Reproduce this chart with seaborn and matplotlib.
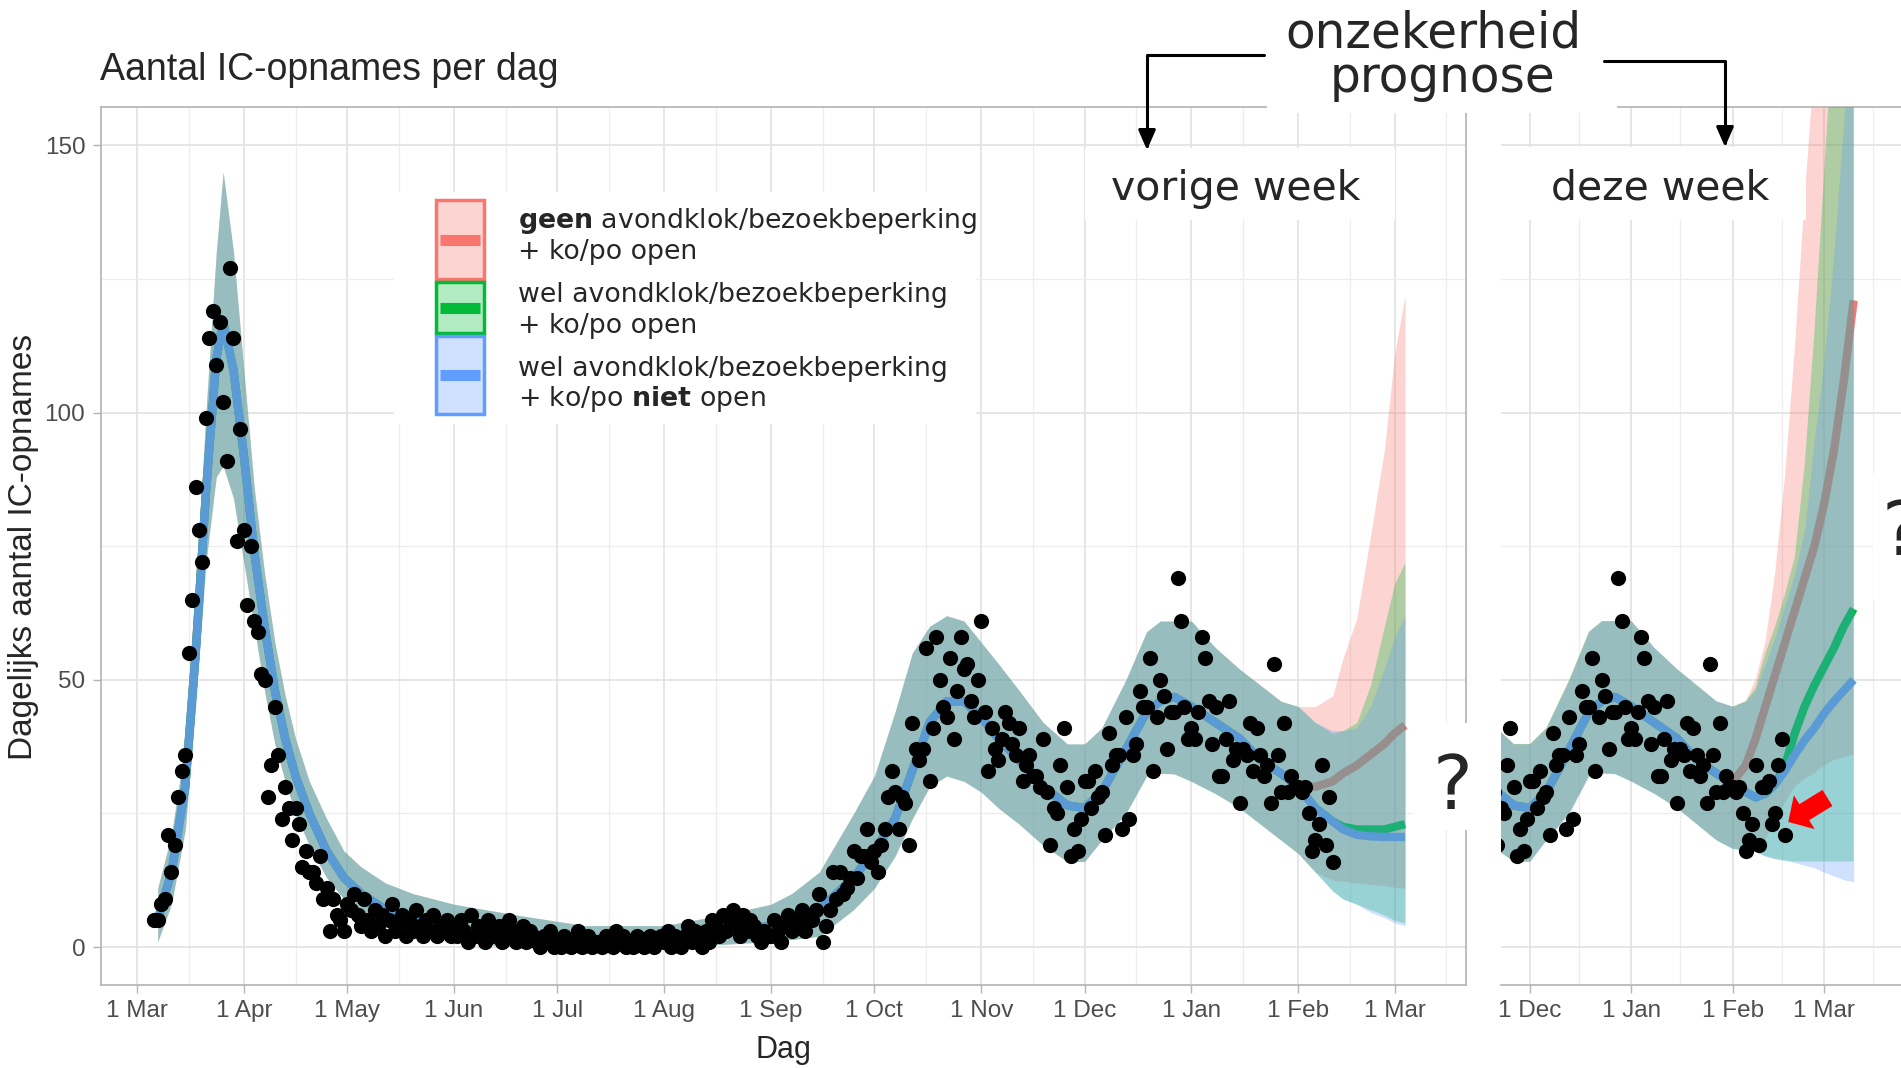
import pandas as pd
import matplotlib
matplotlib.use("Agg")
import matplotlib.pyplot as plt
import matplotlib.dates as mdates
from matplotlib.patches import Rectangle, FancyArrowPatch
from matplotlib.lines import Line2D
from matplotlib.path import Path
import seaborn as sns

# Daily IC admissions (starting 6 Mar 2020)
mar = [5, 5, 8, 9, 21, 14, 19, 28, 33, 36, 55, 65, 86, 78, 72, 99, 114, 119, 109, 117, 102, 91, 127, 114, 76, 97]
apr = [78, 64, 75, 61, 59, 51, 50, 28, 34, 45, 36, 24, 30, 26, 20, 26, 23, 15, 18, 14,
       14, 12, 17, 9, 11, 3, 9, 6, 5, 3]
may = [8, 7, 10, 6, 4, 9, 5, 3, 7, 4, 6, 2, 5, 8, 3, 4, 6, 2, 5, 3, 7, 4, 2, 5, 3, 6, 2, 4, 3, 5, 2]
jun = [4, 2, 5, 3, 1, 6, 2, 4, 3, 1, 5, 2, 3, 4, 1, 2, 5, 3, 1, 2, 4, 1, 3, 2, 1, 0, 2, 1, 3, 0]
jul = [1, 0, 2, 1, 0, 1, 3, 0, 1, 2, 0, 1, 1, 0, 2, 1, 0, 3, 1, 2, 0, 1, 0, 2, 1, 0, 1, 2, 0, 1, 2]
aug = [1, 3, 0, 2, 1, 0, 2, 4, 1, 3, 2, 0, 3, 1, 5, 4, 2, 6, 3, 5, 7, 4, 2, 6, 3, 5, 4, 2, 1, 3, 2]
sep = [2, 5, 3, 1, 4, 6, 3, 5, 4, 7, 3, 6, 5, 7, 10, 1, 4, 7, 14, 9, 14, 10, 11, 13, 18, 13, 17, 17, 22, 16]
okt = [18, 14, 19, 22, 28, 33, 29, 22, 28, 27, 19, 42, 37, 35, 37, 56, 31, 41, 58, 50,
       45, 43, 54, 39, 48, 58, 52, 53, 46, 43, 50]
nov = [61, 44, 33, 41, 37, 35, 39, 44, 42, 38, 36, 41, 31, 34, 36, 32, 32, 30, 39, 29,
       19, 26, 25, 34, 41, 30, 17, 22, 18, 24]
dec = [31, 31, 26, 33, 28, 29, 21, 40, 34, 36, 36, 22, 43, 24, 36, 38, 48, 45, 45, 54,
       33, 43, 50, 47, 37, 44, 44, 69, 61, 45, 39]
jan = [41, 39, 44, 58, 54, 46, 38, 45, 32, 32, 39, 46, 35, 37, 27, 37, 36, 42, 33, 41,
       36, 32, 34, 27, 53, 36, 29, 42, 29, 32, 30]
feb = [30, 29, 30, 25, 18, 20, 23, 34, 19, 28, 16]
ic_daily = mar + apr + may + jun + jul + aug + sep + okt + nov + dec + jan + feb
ic_dates = pd.date_range("2020-03-06", periods=len(ic_daily), freq="D")

# figures from 10 Feb 2021 as shown in this week's panel
ic_new = [30, 30, 31, 23, 25, 34, 39, 21]
ic_new_dates = pd.date_range("2021-02-10", periods=len(ic_new), freq="D")

# model fit up to the start of the forecast (same for all scenarios)
hist_dates = ["2020-03-07", "2020-03-11", "2020-03-15", "2020-03-18", "2020-03-21", "2020-03-24",
              "2020-03-26", "2020-03-29", "2020-04-01", "2020-04-04", "2020-04-07", "2020-04-10",
              "2020-04-13", "2020-04-16", "2020-04-20", "2020-04-25", "2020-04-30", "2020-05-05",
              "2020-05-12", "2020-05-20", "2020-06-01", "2020-06-19", "2020-07-09", "2020-08-01",
              "2020-08-18", "2020-09-01", "2020-09-07", "2020-09-15", "2020-09-25", "2020-10-01",
              "2020-10-07", "2020-10-12", "2020-10-17", "2020-10-22", "2020-10-27", "2020-11-01",
              "2020-11-06", "2020-11-12", "2020-11-19", "2020-11-26", "2020-12-01", "2020-12-06",
              "2020-12-13", "2020-12-19", "2020-12-23", "2020-12-27", "2021-01-01", "2021-01-08",
              "2021-01-15", "2021-01-21", "2021-01-27"]
hist_mid = [5, 14, 30, 55, 85, 110, 117, 108,
            92, 74, 60, 48, 39, 32, 25, 18, 13,
            10, 7, 5, 3, 2, 1.5, 1.5, 2.5,
            4, 4.5, 7, 13,
            18, 24, 33, 42, 46, 46,
            43, 39, 35, 30, 26.5,
            26, 29, 37, 44, 46, 46.8,
            45, 42, 39, 35, 32.5]
hist_lo = [1, 8, 22, 45, 72, 88, 90, 84,
           72, 60, 48, 38, 31, 25, 19, 13, 9,
           6, 4, 2, 1, 0, 0, 0, 0.5,
           1, 1.4, 2, 7,
           11, 17, 24, 30, 32, 31,
           29, 26, 23, 19, 16,
           16, 20, 25, 32, 32.5, 32.4,
           31, 28.7, 26, 23, 20]
hist_hi = [11, 21, 38, 66, 100, 130, 145, 130,
           108, 86, 70, 57, 47, 39, 31, 24, 18,
           15, 12, 10, 8, 6, 4, 4, 6,
           8, 10, 14, 25,
           32, 44, 55, 60, 62, 61,
           57, 53, 48, 42, 38,
           38, 41, 50, 59, 61, 61,
           61, 56, 52, 49, 46]

# forecast "vorige week"
vw_dates = ["2021-02-01", "2021-02-06", "2021-02-11", "2021-02-14", "2021-02-18",
            "2021-02-22", "2021-02-26", "2021-03-01", "2021-03-04"]
vw_geen_mid = [30, 30, 31, 32.5, 34, 36, 38, 40, 41.5]
vw_geen_lo = [17.5, 14, 12.5, 12.3, 12, 11.7, 11.5, 11.2, 11]
vw_geen_hi = [45, 45, 47, 54, 61.5, 77, 93, 111, 122]
vw_open_mid = [30, 26, 23.5, 22.5, 22, 22, 22, 22.5, 23]
vw_open_lo = [17.5, 14, 10.5, 9, 8, 7, 6, 5, 4.5]
vw_open_hi = [45, 42, 40, 40.5, 42, 49, 60, 68, 72]
vw_dicht_mid = [30, 26, 23.5, 22, 21, 20.7, 20.6, 20.6, 20.6]
vw_dicht_lo = [17.5, 14, 10.5, 9, 8, 6.5, 5.5, 4.5, 4]
vw_dicht_hi = [45, 42, 40.5, 40.5, 41, 45, 52, 58, 62]

# forecast "deze week"
dw_dates = ["2021-02-01", "2021-02-05", "2021-02-08", "2021-02-11", "2021-02-14", "2021-02-17",
            "2021-02-20", "2021-02-23", "2021-02-26", "2021-03-01", "2021-03-04", "2021-03-07",
            "2021-03-10"]
dw_geen_mid = [31, 34, 39, 45, 51, 57, 63, 69, 75, 83, 93, 106, 121]
dw_geen_lo = [18.4, 18.4, 18.5, 20, 24, 27, 30, 31.5, 32.5, 34, 35, 35.5, 36]
dw_geen_hi = [45, 46, 50, 57, 70, 88, 112, 140, 165, 200, 240, 280, 320]
dw_open_mid = [30.5, 29, 28, 28.7, 30.5, 34, 40, 45, 49, 52.5, 56, 60, 63.3]
dw_open_lo = [18.4, 18, 17.8, 17, 16.5, 16.2, 16, 16, 16, 16, 16, 16, 16]
dw_open_hi = [45, 46, 48.5, 55, 60, 66, 73, 90, 115, 145, 175, 210, 250]
dw_dicht_mid = [30.5, 29, 28, 28.7, 30.5, 33, 36, 38.7, 41, 43.7, 46, 48, 50]
dw_dicht_lo = [18.4, 18, 17.8, 17, 16.5, 16.2, 15.8, 15.3, 14.8, 14, 13.3, 12.6, 12.2]
dw_dicht_hi = [45, 46, 48, 53, 58, 64, 70, 78, 95, 110, 130, 155, 180]

legend_labels = [
    (r"$\mathbf{geen}$ avondklok/bezoekbeperking", "+ ko/po open"),
    ("wel avondklok/bezoekbeperking", "+ ko/po open"),
    ("wel avondklok/bezoekbeperking", r"+ ko/po $\mathbf{niet}$ open"),
]

sns.set_style("whitegrid")
SANS = ["Liberation Sans Narrow", "Liberation Sans", "DejaVu Sans"]
plt.rcParams["font.family"] = SANS
plt.rcParams["mathtext.fontset"] = "dejavusans"

W, H = 1901, 1068
fig = plt.figure(figsize=(W / 100, H / 100), dpi=100)


def fx(px):
    return px / W


def fy(py):
    return 1 - py / H


top, bottom = 106.7, 985
ax1 = fig.add_axes([fx(100.6), fy(bottom), (1466 - 100.6) / W, (bottom - top) / H])
ax2 = fig.add_axes([fx(1501), fy(bottom), (W - 1501) / W, (bottom - top) / H])

RED, GREEN, BLUE = "#F8766D", "#00BA38", "#619CFF"
LINE_COLS = [RED, GREEN, "#5B9BD5"]


def draw_panel(ax, f_dates, scenarios, dot_x, dot_y):
    x = pd.to_datetime(hist_dates + f_dates)
    z = 2
    for fill_col, line_col, (mid, lo, hi) in zip([RED, GREEN, BLUE], LINE_COLS, scenarios):
        ax.fill_between(x, hist_lo + lo, hist_hi + hi, color=fill_col, alpha=0.3,
                        linewidth=0, zorder=z)
        sns.lineplot(x=x, y=hist_mid + mid, ax=ax, color=line_col, linewidth=6,
                     solid_capstyle="butt", zorder=z + 1)
        z += 2
    sns.scatterplot(x=dot_x, y=dot_y, ax=ax, color="black", s=120, linewidth=0, zorder=10)


draw_panel(ax1, vw_dates,
           [(vw_geen_mid, vw_geen_lo, vw_geen_hi),
            (vw_open_mid, vw_open_lo, vw_open_hi),
            (vw_dicht_mid, vw_dicht_lo, vw_dicht_hi)],
           ic_dates, ic_daily)
draw_panel(ax2, dw_dates,
           [(dw_geen_mid, dw_geen_lo, dw_geen_hi),
            (dw_open_mid, dw_open_lo, dw_open_hi),
            (dw_dicht_mid, dw_dicht_lo, dw_dicht_hi)],
           list(ic_dates[:-2]) + list(ic_new_dates), ic_daily[:-2] + ic_new)

base = pd.Timestamp("2020-03-01")


def style(ax, d0, d1):
    ax.set_xlim(base + pd.Timedelta(days=d0), base + pd.Timedelta(days=d1))
    ax.set_ylim(-7.11, 157.26)
    ax.xaxis.set_major_locator(mdates.MonthLocator())
    ax.xaxis.set_major_formatter(mdates.DateFormatter("%-d %b"))
    ax.xaxis.set_minor_locator(mdates.MonthLocator(bymonthday=16))
    ax.set_yticks([0, 50, 100, 150])
    ax.set_yticks([25, 75, 125], minor=True)
    ax.grid(which="major", color="#E2E2E2", linewidth=1.2)
    ax.grid(which="minor", color="#EDEDED", linewidth=0.9)
    ax.set_axisbelow(True)
    ax.tick_params(which="major", bottom=True, left=True, length=6, width=1,
                   color="#B3B3B3", labelsize=17.5, labelcolor="#4D4D4D", pad=5)
    ax.tick_params(which="minor", length=0)
    ax.set_xlabel("")
    ax.set_ylabel("")
    for s in ax.spines.values():
        s.set_color("#B3B3B3")
        s.set_linewidth(1.2)


style(ax1, -10.57, 385.7)
style(ax2, 266.1, 388.5)
ax2.tick_params(axis="y", left=False, labelleft=False)
ax2.spines["left"].set_visible(False)
ax2.spines["right"].set_visible(False)

# red pointer in this week's panel
arrow_tail = ("2021-03-02", 27.9)
arrow_tip = ("2021-02-18", 23.4)
ax2.add_patch(FancyArrowPatch(
    posA=(mdates.date2num(pd.Timestamp(arrow_tail[0])), arrow_tail[1]),
    posB=(mdates.date2num(pd.Timestamp(arrow_tip[0])), arrow_tip[1]),
    arrowstyle="simple,head_length=0.9,head_width=1.9,tail_width=0.9",
    mutation_scale=15, color="red", linewidth=0, shrinkA=0, shrinkB=0, zorder=11))

# titles
fig.text(fx(100), fy(80), "Aantal IC-opnames per dag", fontsize=27, ha="left", va="baseline")
fig.text(fx(24), fy(547), "Dagelijks aantal IC-opnames", fontsize=24, rotation=90,
         ha="center", va="center")
fig.text(fx(783), fy(1050), "Dag", fontsize=22, ha="center", va="center")


def white_box(x0, y0, x1, y1):
    fig.add_artist(Rectangle((fx(x0), fy(y1)), (x1 - x0) / W, (y1 - y0) / H,
                             transform=fig.transFigure, facecolor="white",
                             edgecolor="none", zorder=5))


white_box(394, 192, 976, 424)
white_box(1267, 0, 1617, 113)
white_box(1085, 148, 1395, 220)
white_box(1500, 147, 1806, 220)
white_box(1413, 723, 1500, 830)
white_box(1873, 473, 1901, 600)

DV = "DejaVu Sans"
fig.text(fx(1433), fy(47), "onzekerheid", fontsize=35, family=DV, ha="center", va="baseline", zorder=8)
fig.text(fx(1442), fy(92), "prognose", fontsize=35, family=DV, ha="center", va="baseline", zorder=8)
fig.text(fx(1236), fy(200), "vorige week", fontsize=29.5, family=DV, ha="center", va="baseline", zorder=8)
fig.text(fx(1660), fy(200), "deze week", fontsize=29.5, family=DV, ha="center", va="baseline", zorder=8)
fig.text(fx(1452), fy(809), "?", fontsize=54, family=DV, ha="center", va="baseline", zorder=8)
fig.text(fx(1901), fy(555), "?", fontsize=54, family=DV, ha="center", va="baseline", zorder=8)

for pts in ([(1264, 55), (1147, 55), (1147, 150)], [(1604, 61), (1725, 61), (1725, 147)]):
    path = Path([(fx(a), fy(b)) for a, b in pts])
    fig.add_artist(FancyArrowPatch(path=path, arrowstyle="-|>,head_length=0.8,head_width=0.35",
                                   mutation_scale=15, color="black", linewidth=2.2,
                                   transform=fig.transFigure, zorder=7))

# legend
key_spans = [(200, 279), (282, 333), (336, 414)]
text_baselines = [(228, 259), (302, 333), (376, 406)]
for col, (k0, k1), (b1, b2), (l1, l2) in zip([RED, GREEN, BLUE], key_spans, text_baselines, legend_labels):
    rgb = matplotlib.colors.to_rgb(col)
    fig.add_artist(Rectangle((fx(436), fy(k1)), 48 / W, (k1 - k0) / H, transform=fig.transFigure,
                             facecolor=(*rgb, 0.3), edgecolor=col, linewidth=2.5, zorder=6))
    yc = fy((k0 + k1) / 2)
    fig.add_artist(Line2D([fx(440), fx(480)], [yc, yc], transform=fig.transFigure, color=col,
                          linewidth=8, solid_capstyle="butt", zorder=7))
    fig.text(fx(518), fy(b1), l1, fontsize=19.3, family=DV, ha="left", va="baseline", zorder=8)
    fig.text(fx(518), fy(b2), l2, fontsize=19.3, family=DV, ha="left", va="baseline", zorder=8)

fig.savefig("out.png", dpi=100)
